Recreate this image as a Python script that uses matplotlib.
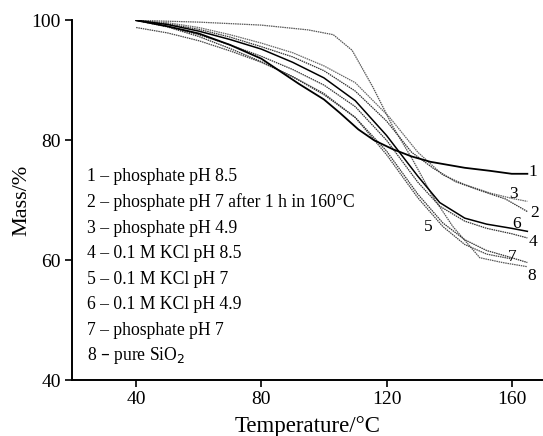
import matplotlib.pyplot as plt

plt.rcParams['font.family'] = ['Liberation Serif', 'DejaVu Serif']

# temperatures (°C) and mass (%)
t1 = [40, 50, 60, 70, 80, 92, 100, 105, 111, 116, 122, 128, 134, 145, 153, 160, 165]
m1 = [100, 99.0, 97.8, 95.9, 93.6, 89.4, 86.8, 84.6, 81.8, 80.0, 78.5, 77.3, 76.4, 75.4, 74.9, 74.4, 74.4]

t2 = [40, 50, 60, 70, 80, 90, 100, 110, 120, 128, 135, 142, 150, 158, 165]
m2 = [100, 99.4, 98.5, 97.2, 95.6, 93.9, 91.6, 88.2, 83.2, 78.0, 75.3, 73.1, 71.6, 70.2, 68.1]

t3 = [40, 50, 60, 70, 80, 90, 100, 110, 121, 130, 138, 145, 153, 160, 165]
m3 = [100, 99.6, 98.8, 97.6, 96.2, 94.6, 92.4, 89.6, 83.8, 78.0, 74.2, 72.6, 71.2, 70.3, 69.8]

t4 = [40, 50, 60, 70, 80, 90, 100, 110, 120, 130, 137, 145, 152, 160, 165]
m4 = [100, 99.0, 97.6, 95.9, 94.0, 91.8, 89.2, 85.6, 80.0, 73.0, 69.0, 66.5, 65.3, 64.4, 63.7]

t5 = [40, 50, 60, 70, 80, 90, 100, 110, 120, 130, 138, 145, 152, 160]
m5 = [98.8, 97.9, 96.6, 94.9, 93.0, 90.6, 87.8, 83.8, 77.6, 70.4, 65.6, 62.6, 61.0, 60.2]

t6 = [40, 50, 60, 70, 80, 90, 100, 110, 120, 130, 137, 145, 152, 160, 165]
m6 = [100, 99.3, 98.2, 96.8, 95.2, 93.0, 90.4, 86.6, 80.8, 74.0, 69.6, 67.0, 66.0, 65.3, 64.8]

t7 = [40, 50, 60, 70, 80, 90, 100, 110, 120, 130, 138, 145, 152, 160, 165]
m7 = [100, 98.9, 97.3, 95.3, 93.1, 90.6, 87.6, 83.8, 78.2, 71.0, 66.2, 63.4, 61.6, 60.4, 59.6]

t8 = [40, 60, 80, 95, 103, 109, 115.6, 122, 128.4, 134.8, 141.2, 149.8, 157, 165]
m8 = [100, 99.7, 99.2, 98.4, 97.6, 95.0, 88.9, 82.3, 76.7, 70.6, 65.6, 60.4, 59.6, 58.9]

legend_lines = ['1 – phosphate pH 8.5',
                '2 – phosphate pH 7 after 1 h in 160°C',
                '3 – phosphate pH 4.9',
                '4 – 0.1 M KCl pH 8.5',
                '5 – 0.1 M KCl pH 7',
                '6 – 0.1 M KCl pH 4.9',
                '7 – phosphate pH 7',
                '8 – pure SiO$_2$']

# curve number labels: (text, T, mass)
curve_labels = [('1', 166.7, 74.7), ('3', 160.5, 71.1), ('2', 167.2, 67.8),
                ('6', 161.5, 66.0), ('4', 166.8, 63.1), ('7', 160.2, 60.6),
                ('8', 166.3, 57.3), ('5', 133.2, 65.6)]

fig = plt.figure(figsize=(5.43, 4.36), dpi=100)
ax = fig.add_axes([0.1326, 0.1284, 0.8674, 0.825])

dot = (0, (1.2, 0.6))
ax.plot(t8, m8, color='#555555', lw=0.9, ls=dot)
ax.plot(t3, m3, color='#666666', lw=0.9, ls=dot)
ax.plot(t2, m2, color='#333333', lw=0.9, ls=dot)
ax.plot(t4, m4, color='#333333', lw=0.9, ls=dot)
ax.plot(t5, m5, color='#444444', lw=0.9, ls=dot)
ax.plot(t7, m7, color='#333333', lw=0.9, ls=dot)
ax.plot(t6, m6, color='black', lw=1.1)
ax.plot(t1, m1, color='black', lw=1.3)

for txt, x, y in curve_labels:
    ax.text(x, y, txt, fontsize=12.5, ha='center', va='center')

for i, s in enumerate(legend_lines):
    ax.text(0.031, 0.5647 - i * 0.0711, s, transform=ax.transAxes,
            fontsize=12.7, ha='left', va='center')

ax.set_xlim(19.5, 170)
ax.set_ylim(40, 100)
ax.set_xticks([40, 80, 120, 160])
ax.set_yticks([40, 60, 80, 100])
ax.spines['top'].set_visible(False)
ax.spines['right'].set_visible(False)
ax.spines['left'].set_linewidth(1.4)
ax.spines['bottom'].set_linewidth(1.4)
ax.tick_params(direction='out', length=5, width=1.2, labelsize=14, pad=3)
ax.set_xlabel('Temperature/°C', fontsize=16.5, labelpad=6)
ax.set_ylabel('Mass/%', fontsize=16, labelpad=0)

fig.savefig('out.png', dpi=100)
